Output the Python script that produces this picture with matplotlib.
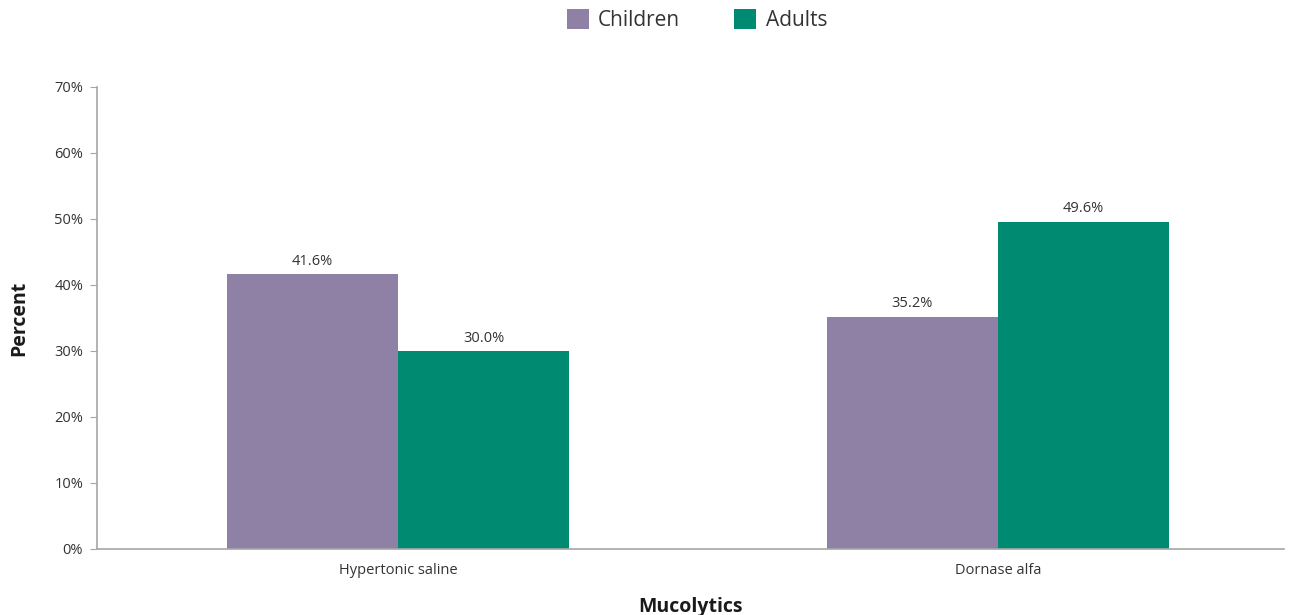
import matplotlib
matplotlib.use("Agg")
import matplotlib.pyplot as plt
import numpy as np

categories = ["Hypertonic saline", "Dornase alfa"]
series_names = ["Children", "Adults"]
children = [41.6, 35.2]
adults = [30.0, 49.6]
yticks = [0, 10, 20, 30, 40, 50, 60, 70]

colors = ["#8f80a6", "#008a72"]
text_color = "#333333"
spine_color = "#a6a6a6"

plt.rcParams['font.family'] = ['Open Sans', 'DejaVu Sans']

W, H = 1292, 615
fig = plt.figure(figsize=(W/100, H/100), dpi=100)
left, right, top, bottom = 97, 1284, 87, 549
ax = fig.add_axes([left/W, 1-bottom/H, (right-left)/W, (bottom-top)/H])

x = np.arange(len(categories))
bw = 0.285
b1 = ax.bar(x - bw/2, children, bw, color=colors[0], label=series_names[0])
b2 = ax.bar(x + bw/2, adults, bw, color=colors[1], label=series_names[1])

for bars, vals in ((b1, children), (b2, adults)):
    for r, v in zip(bars, vals):
        ax.text(r.get_x() + r.get_width()/2, v + 0.8, f"{v:.1f}%", ha="center", va="bottom",
                fontsize=10.5, color=text_color)

ax.set_ylim(0, 70)
ax.set_xlim(-0.502, 1.477)
ax.set_yticks(yticks)
ax.set_yticklabels([f"{t}%" for t in yticks])
ax.set_xticks(x)
ax.set_xticklabels(categories)
ax.tick_params(axis="y", length=5, color=spine_color, labelsize=10.5, labelcolor=text_color, pad=5)
ax.tick_params(axis="x", length=0, labelsize=10.5, labelcolor=text_color, pad=10)
for s in ("top", "right"):
    ax.spines[s].set_visible(False)
for s in ("left", "bottom"):
    ax.spines[s].set_color(spine_color)
    ax.spines[s].set_linewidth(1.2)

ax.set_ylabel("Percent", fontsize=14, fontweight="bold", color="#1a1a1a", labelpad=18)
ax.set_xlabel("Mucolytics", fontsize=14, fontweight="bold", color="#1a1a1a", labelpad=14)

fig.legend(handles=[b1, b2], labels=series_names, loc="center", bbox_to_anchor=(697/W, 1-20/H),
           ncol=2, frameon=False, fontsize=15, handlelength=1.06, handleheight=1.06,
           columnspacing=2.6, handletextpad=0.45, labelcolor=text_color)

fig.savefig("out.png", dpi=100)
